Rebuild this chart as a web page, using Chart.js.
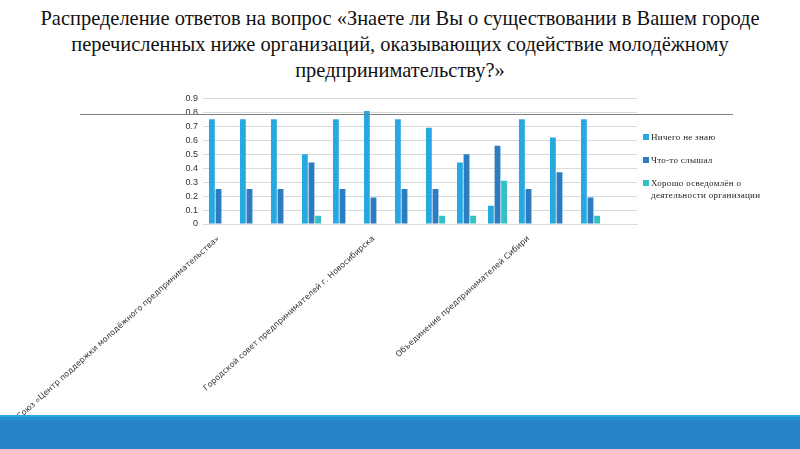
<!DOCTYPE html>
<html lang="ru">
<head>
<meta charset="UTF-8">
<title>Распределение ответов</title>
<script src="https://cdn.jsdelivr.net/npm/chart.js"></script>
<style>
    html, body { margin: 0; padding: 0; width: 800px; height: 449px; overflow: hidden; background: #fff; }
    #title { position: absolute; left: 0; top: 5px; width: 800px; text-align: center; font-family: "Liberation Serif", serif; font-size: 21px; line-height: 26px; color: #111; transform: scaleX(0.973); }
    #rule { position: absolute; left: 80px; top: 114px; width: 653px; height: 1px; background: #7f7f7f; z-index: 2; }
    #wrap { position: absolute; left: 0; top: 88px; width: 800px; height: 327px; }
    #legend { position: absolute; left: 643px; top: 131px; font-family: "Liberation Serif", serif; font-size: 9px; line-height: 12px; color: #222; letter-spacing: 0.3px; }
    #legend .item { display: flex; align-items: flex-start; margin-bottom: 11px; }
    #legend .box { width: 6px; height: 6px; margin: 3px 2px 0 0; flex: none; }
    #band { position: absolute; left: 0; top: 415px; width: 800px; height: 34px; background: #2683c6; border-top: 2px solid #2aa8de; box-sizing: border-box; }
    #band:before { content: ""; display: block; height: 3px; background: #2291d4; }
</style>
</head>
<body>
<div id="title">Распределение ответов на вопрос «Знаете ли Вы о существовании в Вашем городе<br>перечисленных ниже организаций, оказывающих содействие молодёжному<br>предпринимательству?»</div>
<div id="wrap"><canvas id="chart"></canvas></div>
<div id="rule"></div>
<div id="legend"></div>
<div id="band"></div>
<script>
// последняя категория в исходной диаграмме пустая
const categories = [
    'Союз «Центр поддержки молодёжного предпринимательства»',
    'Фонд поддержки малого предпринимательства',
    'Бизнес-инкубатор',
    'Центр занятости населения',
    'Торгово-промышленная палата',
    'Городской совет предпринимателей г. Новосибирска',
    'Молодёжный бизнес-клуб',
    'Центр поддержки экспорта',
    'Агентство инвестиционного развития',
    'Технопарк',
    'Объединение предпринимателей Сибири',
    'Центр развития предпринимательства',
    'Ассоциация молодых предпринимателей',
    ''
];
const seriesNames = ['Ничего не знаю', 'Что-то слышал', 'Хорошо осведомлён о деятельности организации'];
const knowNothing = [0.75, 0.75, 0.75, 0.50, 0.75, 0.81, 0.75, 0.69, 0.44, 0.13, 0.75, 0.62, 0.75, null];
const heardSome   = [0.25, 0.25, 0.25, 0.44, 0.25, 0.19, 0.25, 0.25, 0.50, 0.56, 0.25, 0.37, 0.19, null];
const wellKnown   = [0, 0, 0, 0.06, 0, 0, 0, 0.06, 0.06, 0.31, 0, 0, 0.06, null];
const yTicks = [0, 0.1, 0.2, 0.3, 0.4, 0.5, 0.6, 0.7, 0.8, 0.9];
const shownLabels = [0, 5, 10];
const colors = ['#28a8e0', '#2b7cc1', '#32c2c5'];

const chart = new Chart(document.getElementById('chart'), {
    type: 'bar',
    data: {
        labels: categories,
        datasets: [knowNothing, heardSome, wellKnown].map((d, i) => ({
            label: seriesNames[i],
            data: d,
            backgroundColor: colors[i],
            categoryPercentage: 0.64,
            barPercentage: 0.88
        }))
    },
    options: {
        responsive: true,
        maintainAspectRatio: false,
        animation: false,
        layout: { padding: { left: 168, right: 163, top: 4, bottom: 0 } },
        plugins: { legend: { display: false }, tooltip: { enabled: false } },
        scales: {
            x: {
                grid: { display: false },
                border: { color: '#d9d9d9' },
                ticks: {
                    autoSkip: false,
                    minRotation: 42, maxRotation: 42,
                    font: { family: 'DejaVu Sans', size: 8 },
                    color: '#333',
                    padding: 2,
                    callback: (v, i) => shownLabels.includes(i) ? categories[i] : ''
                },
                afterFit: s => { s.height = 191; }
            },
            y: {
                min: 0, max: 0.9,
                afterBuildTicks: s => { s.ticks = yTicks.map(v => ({ value: v })); },
                grid: { color: '#d9d9d9', drawTicks: false },
                border: { display: false },
                ticks: { font: { family: 'Liberation Sans', size: 9 }, color: '#333', padding: 5 },
                afterFit: s => { s.width = 35; }
            }
        }
    }
});

const legend = document.getElementById('legend');
chart.data.datasets.forEach(ds => {
    const it = document.createElement('div');
    it.className = 'item';
    it.innerHTML = `<span class="box" style="background:${ds.backgroundColor}"></span><span style="width:125px">${ds.label}</span>`;
    legend.appendChild(it);
});
</script>
</body>
</html>
